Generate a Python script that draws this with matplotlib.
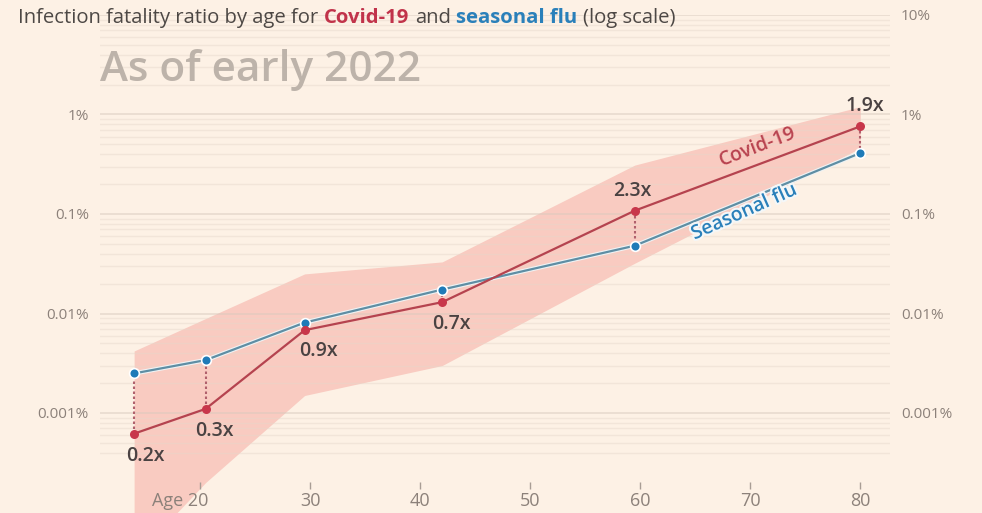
import numpy as np
import matplotlib.pyplot as plt
import matplotlib.patheffects as pe
from matplotlib.transforms import ScaledTranslation

plt.rcParams['font.family'] = ['Open Sans', 'DejaVu Sans']

# data (infection fatality ratio, %)
ages = [14, 20.5, 29.5, 42, 59.5, 80]
covid = [0.00062, 0.0011, 0.0068, 0.013, 0.108, 0.76]
flu = [0.0025, 0.0034, 0.0081, 0.0174, 0.048, 0.41]
band_lo = [0.000035, 0.0002, 0.0015, 0.003, 0.032, 0.46]
band_hi = [0.0042, 0.0089, 0.025, 0.033, 0.31, 1.2]
ratios = ['0.2x', '0.3x', '0.9x', '0.7x', '2.3x', '1.9x']
ratio_offsets = [(8, -16), (6.5, -16), (10, -15), (6.5, -16), (-2, 14), (3, 15)]

yticks = [0.001, 0.01, 0.1, 1, 10]
ylabels = ['0.001%', '0.01%', '0.1%', '1%', '10%']
xticks = [20, 30, 40, 50, 60, 70, 80]
xlabels = ['Age 20', '30', '40', '50', '60', '70', '80']

bg = '#fdf1e5'
blue = '#2a80ba'
grey = '#8c817a'

fig = plt.figure(figsize=(9.82, 5.13), dpi=100, facecolor=bg)
ax = fig.add_axes([100/982, 24/513, 790/982, 474/513])
ax.set_facecolor(bg)
ax.set_yscale('log')
ax.set_ylim(10**(1 - 474/99.5), 10)
ax.set_xlim(10.9, 82.7)

# gridlines
minor = [m * 10.0**k for k in range(-4, 1) for m in range(2, 10) if m * 10.0**k >= 0.0004]
ax.set_yticks(yticks, ylabels)
ax.set_yticks(minor, minor=True)
ax.yaxis.set_minor_formatter(plt.NullFormatter())
ax.grid(which='major', axis='y', color='#d8cabe', alpha=0.6, lw=1.1)
ax.grid(which='minor', axis='y', color='#e6d8cc', alpha=0.45, lw=1)
ax.tick_params(axis='y', which='both', length=0, labelleft=True, labelright=True,
               pad=8, labelsize=11, labelcolor=grey)
ax.yaxis.get_major_ticks()[-1].label1.set_visible(False)
for s in ax.spines.values():
    s.set_visible(False)

ax.set_xticks(xticks, xlabels)
ax.tick_params(axis='x', direction='in', length=5, width=1, color='#a89d95',
               pad=2, labelsize=13, labelcolor=grey)
lab0 = ax.get_xticklabels()[0]
lab0.set_transform(lab0.get_transform() + ScaledTranslation(-0.2, 0, fig.dpi_scale_trans))

# uncertainty band
ax.fill_between(ages, band_lo, band_hi, color='#f9cbc1', lw=0,
                clip_on=False, zorder=1)

# connectors
ax.vlines(ages, covid, flu, colors='#b0606c', linestyles=(0, (1.2, 1.2)), lw=1.5, zorder=3)

ax.plot(ages, flu, color='#5f8ea4', lw=1.6, zorder=3,
        path_effects=[pe.Stroke(linewidth=3.2, foreground='#eef3f5'), pe.Normal()])
ax.plot(ages, covid, color='#b5434f', lw=1.6, zorder=4)
ax.plot(ages, flu, 'o', ms=7, mfc='#1f7bb8', mec='white', mew=1.2, zorder=5)
ax.plot(ages, covid, 'o', ms=6.5, mfc='#c8374b', mec='none', zorder=6)

for a, c, r, off in zip(ages, covid, ratios, ratio_offsets):
    ax.annotate(r, (a, c), xytext=off, textcoords='offset points', ha='center', va='center',
                fontsize=14, fontweight='semibold', color='#4a4242', zorder=7)

ax.text(70.7, 0.47, 'Covid-19', rotation=21, rotation_mode='anchor', ha='center', va='center',
        fontsize=14, fontweight='semibold', color='#b8424f', zorder=7)
ax.text(69.5, 0.105, 'Seasonal flu', rotation=24, rotation_mode='anchor', ha='center', va='center',
        fontsize=14, fontweight='semibold', color=blue, zorder=7,
        path_effects=[pe.Stroke(linewidth=3, foreground='#f4f7f8'), pe.Normal()])

# title with coloured words
pieces = [('Infection fatality ratio by age for', '#4d4845', 'normal'),
          ('Covid-19', '#c1334a', 'bold'),
          ('and', '#4d4845', 'normal'),
          ('seasonal flu', blue, 'bold'),
          ('(log scale)', '#4d4845', 'normal')]
renderer = fig.canvas.get_renderer()
x = 18 / 982
gap = 5.5 / 982
for txt, col, wt in pieces:
    t = fig.text(x, 1 - 18/513, txt, color=col, fontweight=wt, fontsize=14.6,
                 ha='left', va='center')
    x += t.get_window_extent(renderer).width / fig.bbox.width + gap

fig.text(100/982, 1 - 70/513, 'As of early 2022', fontsize=30.4, fontweight='semibold',
         color='#bdb3aa', ha='left', va='center')

fig.savefig('out.png', dpi=100, facecolor=bg)
